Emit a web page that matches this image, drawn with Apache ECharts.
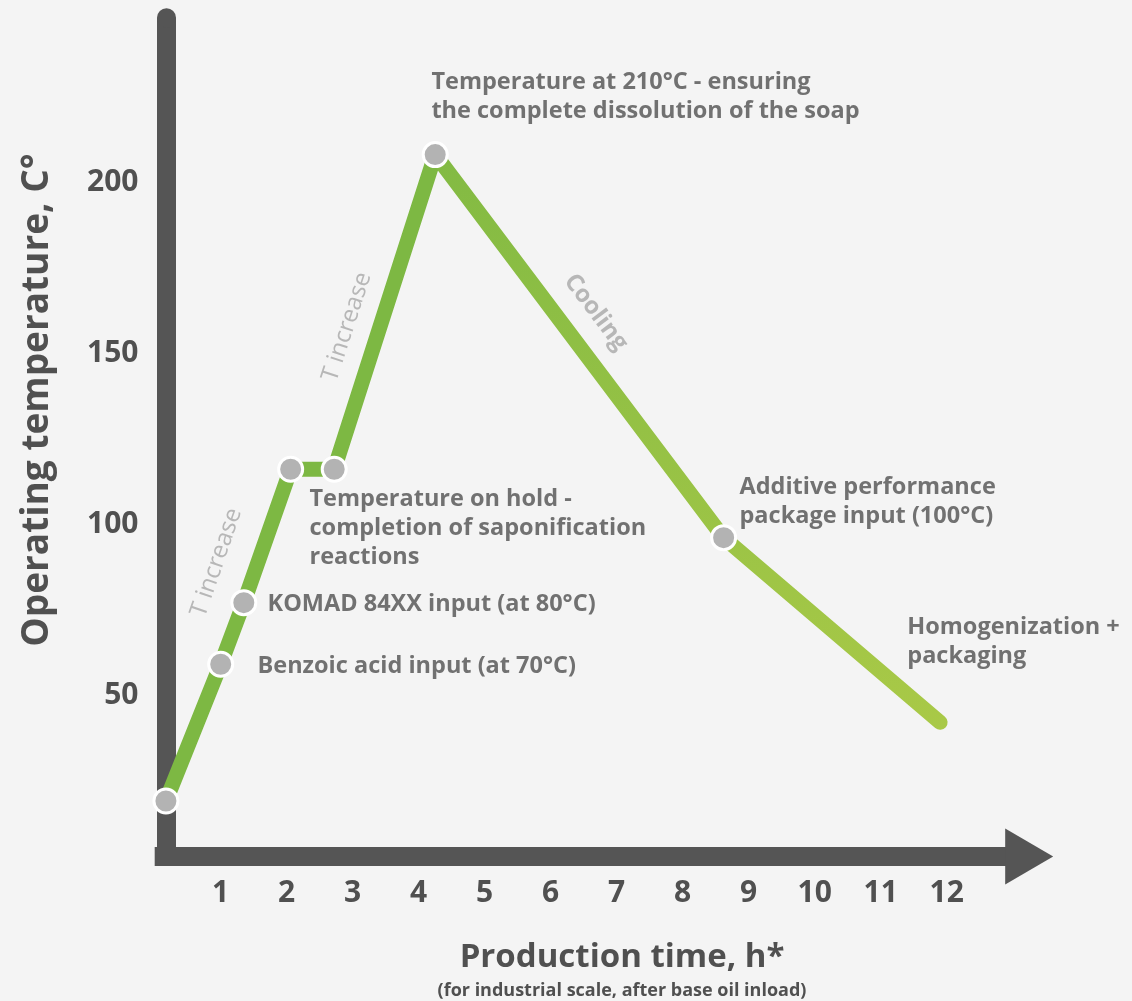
<!DOCTYPE html>
<html><head><meta charset="utf-8">
<script src="https://cdn.jsdelivr.net/npm/echarts@6/dist/echarts.min.js"></script>
<style>html,body{margin:0;padding:0;background:#f4f4f4}#c{width:1132px;height:1001px}</style>
</head><body><div id="c"></div>
<script>
// ---- data ----
const xTicks = [1,2,3,4,5,6,7,8,9,10,11,12];
const yTicks = [50,100,150,200];
const risePoints = [[0.17,19],[1.0,59],[1.35,77],[2.06,116],[2.72,116],[4.25,208]];
const coolPoints = [[4.25,208],[8.62,96],[11.9,42]];
const markerPoints = [[0.17,19],[1.0,59],[1.35,77],[2.06,116],[2.72,116],[4.25,208],[8.62,96]];
const noteTexts = [
  'Temperature at 210°C - ensuring\nthe complete dissolution of the soap',
  'Temperature on hold -\ncompletion of saponification\nreactions',
  'KOMAD 84XX input (at 80°C)',
  'Benzoic acid input (at 70°C)',
  'Additive performance\npackage input (100°C)',
  'Homogenization +\npackaging'
];
const notePos = [[4.20,233.2],[2.353,111.3],[1.717,80.6],[1.565,62.4],[8.868,114.8],[11.41,73.8]];
const phaseTexts = ['T increase','T increase','Cooling'];
const phasePos = [[0.944,88.6],[2.92,157.5],[6.69,161.7]];
const phaseRot = [71,72,-53];
const phaseWeight = ['normal','normal','bold'];

const FONT = '"Open Sans", sans-serif';
const TXT = '#505050';

const chart = echarts.init(document.getElementById('c'), null, {renderer:'canvas'});
chart.setOption({
  backgroundColor:'#f4f4f4',
  animation:false,
  grid:{left:154.7, right:102.8, top:17.8, bottom:135},
  xAxis:{type:'value', min:0, max:13.25, interval:1, offset:-9.5,
    axisLine:{show:true, onZero:false, lineStyle:{color:'#555555', width:19, cap:'butt'},
      symbol:['none','triangle'], symbolSize:[56,48]},
    axisTick:{show:false}, splitLine:{show:false},
    axisLabel:{margin:22, fontSize:30, fontWeight:'bold', color:TXT, fontFamily:FONT,
      formatter:v=> xTicks.indexOf(v)>=0 ? String(v) : ''}},
  yAxis:{type:'value', min:0, max:248, interval:50, offset:-11.8,
    axisLine:{show:true, onZero:false, lineStyle:{color:'#555555', width:19, cap:'butt'},
      symbol:['none','circle'], symbolSize:[19,19]},
    axisTick:{show:false}, splitLine:{show:false},
    axisLabel:{margin:28, fontSize:30, fontWeight:'bold', color:TXT, fontFamily:FONT,
      formatter:v=> yTicks.indexOf(v)>=0 ? String(v) : ''}},
  graphic:[
    {type:'text', style:{text:'Production time, h*', x:622, y:958, align:'center', verticalAlign:'middle',
      font:'bold 33px '+FONT, fill:TXT}},
    {type:'text', style:{text:'(for industrial scale, after base oil inload)', x:622, y:991, align:'center', verticalAlign:'middle',
      font:'bold 18px '+FONT, fill:TXT}},
    {type:'text', x:37, y:400, rotation:Math.PI/2, style:{text:'Operating temperature, C°', x:0, y:0, align:'center', verticalAlign:'middle',
      font:'bold 37px '+FONT, fill:TXT}}
  ],
  series:[
    {type:'line', data:risePoints, symbol:'none', silent:true, z:2,
      lineStyle:{color:'#7db843', width:15, cap:'round', join:'round'}},
    {type:'line', data:coolPoints, symbol:'none', silent:true, z:2,
      lineStyle:{width:15, cap:'round', join:'round',
        color:new echarts.graphic.LinearGradient(0,0,0,1,[{offset:0,color:'#82ba43'},{offset:1,color:'#a9c947'}])}},
    {type:'scatter', data:markerPoints, symbol:'circle', symbolSize:24, silent:true, z:5,
      itemStyle:{color:'#b3b3b3', borderColor:'#ffffff', borderWidth:3, opacity:1}},
    {type:'scatter', silent:true, z:6, symbolSize:1, itemStyle:{color:'rgba(0,0,0,0)'},
      data:notePos.map((p,i)=>({value:p, label:{formatter:noteTexts[i]}})),
      label:{show:true, position:[0,0], align:'left', verticalAlign:'top', fontSize:23.5, lineHeight:29,
        fontWeight:'bold', color:TXT, fontFamily:FONT}},
    {type:'scatter', silent:true, z:6, symbolSize:1, itemStyle:{color:'rgba(0,0,0,0)'},
      data:phasePos.map((p,i)=>({value:p, label:{formatter:phaseTexts[i], rotate:phaseRot[i], fontWeight:phaseWeight[i]}})),
      label:{show:true, position:[0,0], align:'center', verticalAlign:'middle', fontSize:24,
        color:'#a8a8a8', fontFamily:FONT}}
  ]
});
</script></body></html>
